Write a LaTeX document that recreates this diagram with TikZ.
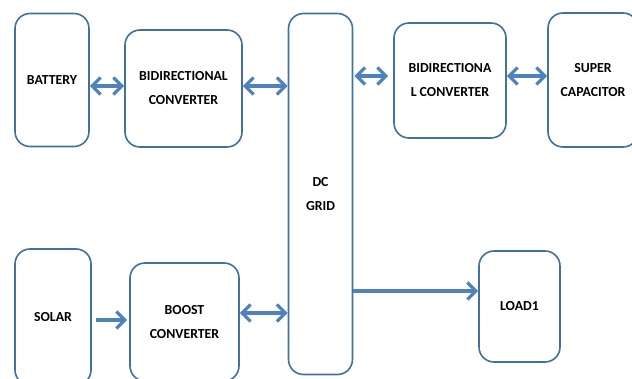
\documentclass[tikz,border=0pt]{standalone}
\usepackage{fontspec}
\setmainfont{Carlito}
\usetikzlibrary{arrows.meta}
\definecolor{boxblue}{HTML}{41719C}
\definecolor{arrblue}{HTML}{4F81BD}
\begin{document}
\begin{tikzpicture}[x=1pt,y=-1pt,
  blk/.style={draw=boxblue,line width=1.6pt,rounded corners=15pt,fill=white,
    inner sep=0pt,align=center,font=\fontsize{13.8}{24}\selectfont\bfseries},
  tip/.style={},
  dbl/.style={draw=arrblue,line width=3.2pt,{Straight Barb[length=8.5pt,width=17pt]}-{Straight Barb[length=8.5pt,width=17pt]}},
  sgl/.style={draw=arrblue,line width=3.2pt,-{Straight Barb[length=8.5pt,width=17pt]}}]
\useasboundingbox (0,0) rectangle (632,379);
\clip (0,0) rectangle (632,379);
\node[blk,minimum width=74pt,minimum height=133pt] (bat) at (52,80) {BATTERY};
\node[blk,minimum width=117pt,minimum height=117pt] (bd1) at (183.5,88.5) {BIDIRECTIONAL\\CONVERTER};
\node[blk,minimum width=64pt,minimum height=361pt] (dc) at (320.5,194) {DC\\GRID};
\node[blk,minimum width=112pt,minimum height=115pt] (bd2) at (450,80.5) {BIDIRECTIONA\\L CONVERTER};
\node[blk,minimum width=90pt,minimum height=134pt] (sc) at (593,80) {SUPER\\CAPACITOR};
\node[blk,minimum width=76pt,minimum height=136pt] (sol) at (53,317) {SOLAR};
\node[blk,minimum width=109pt,minimum height=118pt] (bst) at (184.5,322) {BOOST\\CONVERTER};
\node[blk,minimum width=81pt,minimum height=111pt] (ld) at (519.5,306.5) {LOAD1};
\draw[dbl] (bat.east |- 0,86) -- (bd1.west |- 0,86);
\draw[dbl] (bd1.east |- 0,86) -- (dc.west |- 0,86);
\draw[dbl] ([xshift=1pt]dc.east |- 0,76) -- ([xshift=-5pt]bd2.west |- 0,76);
\draw[dbl] (bd2.east |- 0,76) -- (sc.west |- 0,76);
\draw[sgl] ([xshift=4pt]sol.east |- 0,320) -- ([xshift=-2pt]bst.west |- 0,320);
\draw[dbl] (bst.east |- 0,313) -- (dc.west |- 0,313);
\draw[sgl] (dc.east |- 0,291) -- (ld.west |- 0,291);
\end{tikzpicture}
\end{document}
